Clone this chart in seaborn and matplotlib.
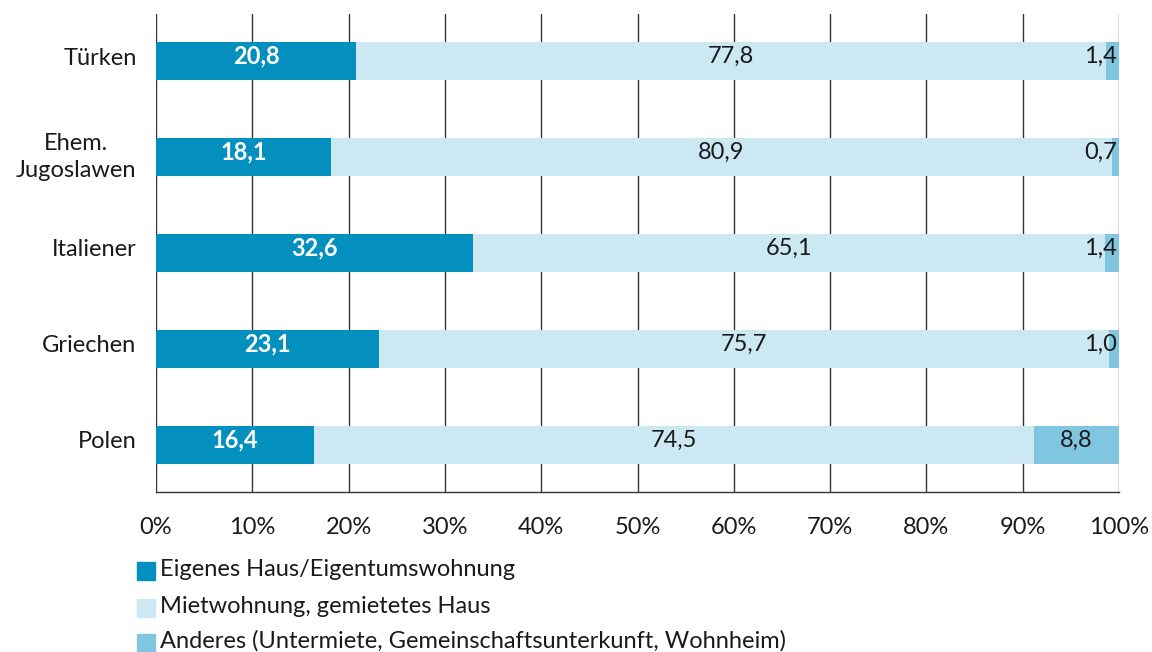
import matplotlib
matplotlib.use("Agg")
import matplotlib.pyplot as plt
import matplotlib.transforms as mtransforms
import seaborn as sns
import pandas as pd
import numpy as np
from matplotlib.patches import Rectangle

categories = ["Türken", "Ehem.\nJugoslawen", "Italiener", "Griechen", "Polen"]
eigentum = [20.8, 18.1, 32.6, 23.1, 16.4]
miete = [77.8, 80.9, 65.1, 75.7, 74.5]
anderes = [1.4, 0.7, 1.4, 1.0, 8.8]
series_names = ["Eigenes Haus/Eigentumswohnung",
                "Mietwohnung, gemietetes Haus",
                "Anderes (Untermiete, Gemeinschaftsunterkunft, Wohnheim)"]
colors = ["#0390bf", "#cce8f3", "#80c6e0"]
xticks = [0, 10, 20, 30, 40, 50, 60, 70, 80, 90, 100]

sns.set_theme(style="white")
FONT = ["Lato", "DejaVu Sans"]
plt.rcParams["font.family"] = FONT
TXT = "#1a1a1a"
FS = 17

df = pd.DataFrame({"cat": categories, "a": eigentum, "b": miete, "c": anderes})
tot = df["a"] + df["b"] + df["c"]
df["A"] = df["a"] / tot * 100
df["AB"] = (df["a"] + df["b"]) / tot * 100
df["ABC"] = 100.0

fig = plt.figure(figsize=(11.52, 6.52), dpi=100)
ax = fig.add_axes([156/1152, 1-492/652, (1119-156)/1152, (492-14)/652])

for col, c in zip(["ABC", "AB", "A"], [colors[2], colors[1], colors[0]]):
    sns.barplot(data=df, x=col, y="cat", orient="h", color=c, width=0.4,
                saturation=1, ax=ax, zorder=3, linewidth=0)

ax.set_xlim(0, 100)
ax.set_ylim(4.49, -0.49)
ax.set_xticks(xticks)
ax.set_xticklabels([f"{t}%" for t in xticks])
ax.set_xlabel("")
ax.set_ylabel("")
ax.tick_params(axis="both", length=0, labelsize=FS, colors=TXT)
ax.tick_params(axis="x", pad=18)
ax.tick_params(axis="y", pad=14)
up = mtransforms.ScaledTranslation(0, 5/100, fig.dpi_scale_trans)
for lab in ax.get_yticklabels():
    lab.set_multialignment("center")
    lab.set_linespacing(1.35)
    lab.set_transform(lab.get_transform() + up)

for x in xticks:
    ax.axvline(x, color="#333333", lw=1, zorder=1)
for s in ["top", "right"]:
    ax.spines[s].set_visible(False)
ax.spines["left"].set_visible(False)
ax.spines["bottom"].set_color("#333333")
ax.spines["bottom"].set_linewidth(1)

def fmt(v):
    return f"{v:.1f}".replace(".", ",")

for i in range(len(categories)):
    A = df["A"][i]; AB = df["AB"][i]
    ax.text(A/2, i - 0.05, fmt(eigentum[i]), ha="center", va="center",
            color="white", fontweight="bold", fontsize=FS, zorder=5)
    ax.text((A+AB)/2, i - 0.05, fmt(miete[i]), ha="center", va="center",
            color=TXT, fontsize=FS, zorder=5)
    w = 100 - AB
    if w > 4:
        ax.text((AB+100)/2, i - 0.05, fmt(anderes[i]), ha="center", va="center",
                color=TXT, fontsize=FS, zorder=5)
    else:
        ax.text(99.8, i - 0.05, fmt(anderes[i]), ha="right", va="center",
                color=TXT, fontsize=FS, zorder=5)

# legend
leg_y = [580, 617, 652]
for yb, name, c in zip(leg_y, series_names, colors):
    fig.patches.append(Rectangle((137/1152, 1-yb/652), 18/1152, 18/652,
                                 transform=fig.transFigure, color=c, zorder=5))
    fig.text(160/1152, 1-(yb-4)/652, name, ha="left", va="baseline",
             fontsize=FS, color=TXT)

fig.savefig("out.png", dpi=100)
